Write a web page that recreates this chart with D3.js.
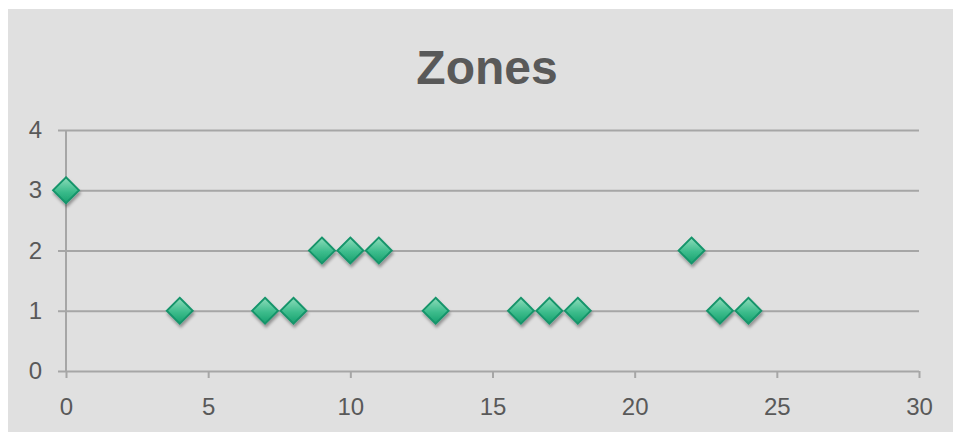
<!DOCTYPE html>
<html>
<head>
<meta charset="utf-8">
<script src="https://cdn.jsdelivr.net/npm/d3@7/dist/d3.min.js"></script>
<style>
  html, body { margin: 0; padding: 0; background: #ffffff; }
  svg { display: block; }
</style>
</head>
<body>
<svg id="chart" width="953" height="432"></svg>
<script>
// Zone number recorded at each position
const xValues = [0, 4, 7, 8, 9, 10, 11, 13, 16, 17, 18, 22, 23, 24];
const zoneValues = [3, 1, 1, 1, 2, 2, 2, 1, 1, 1, 1, 2, 1, 1];
const xTicks = [0, 5, 10, 15, 20, 25, 30];
const yTicks = [0, 1, 2, 3, 4];
const chartTitle = "Zones";

const svg = d3.select("#chart");
const W = 953, H = 432;
const margin = { left: 66, right: 34, top: 130, bottom: 61 };

// Chart area background
svg.append("rect")
  .attr("x", 8).attr("y", 9)
  .attr("width", W - 8).attr("height", H - 9)
  .attr("fill", "#e0e0e0");

const defs = svg.append("defs");
const grad = defs.append("linearGradient")
  .attr("id", "markerFill")
  .attr("x1", 0).attr("y1", 0).attr("x2", 0).attr("y2", 1);
grad.append("stop").attr("offset", "0%").attr("stop-color", "#8fdcbb");
grad.append("stop").attr("offset", "55%").attr("stop-color", "#3cbc8c");
grad.append("stop").attr("offset", "100%").attr("stop-color", "#17a06e");

const shadow = defs.append("filter").attr("id", "markerShadow")
  .attr("x", "-50%").attr("y", "-50%").attr("width", "200%").attr("height", "200%");
shadow.append("feDropShadow")
  .attr("dx", 1).attr("dy", 3).attr("stdDeviation", 1.6)
  .attr("flood-color", "#000").attr("flood-opacity", 0.35);

const x = d3.scaleLinear().domain([0, 30]).range([margin.left, W - margin.right]);
const y = d3.scaleLinear().domain([0, 4]).range([H - margin.bottom, margin.top]);

const axisColor = "#a6a6a6";
const textColor = "#595959";
const tickFont = "24px";

// Horizontal gridlines with left tick stubs
const yAxis = d3.axisLeft(y)
  .tickValues(yTicks)
  .tickSize(-(x(30) - x(0)))
  .tickPadding(24)
  .tickFormat(d3.format("d"));
const gy = svg.append("g")
  .attr("transform", `translate(${x(0)},0)`)
  .call(yAxis);
gy.select(".domain").remove();
gy.selectAll(".tick line")
  .attr("x1", -8)
  .attr("stroke", axisColor).attr("stroke-width", 2);
gy.selectAll(".tick text")
  .attr("fill", textColor)
  .style("font-family", "'Liberation Sans', Arial, sans-serif")
  .style("font-size", tickFont);

// Vertical axis line at x = 0
svg.append("line")
  .attr("x1", x(0)).attr("x2", x(0))
  .attr("y1", y(4)).attr("y2", y(0))
  .attr("stroke", axisColor).attr("stroke-width", 2);

// Bottom axis
const xAxis = d3.axisBottom(x)
  .tickValues(xTicks)
  .tickSize(7)
  .tickPadding(20)
  .tickFormat(d3.format("d"));
const gx = svg.append("g")
  .attr("transform", `translate(0,${y(0)})`)
  .call(xAxis);
gx.select(".domain").remove();
gx.selectAll(".tick line").attr("stroke", axisColor).attr("stroke-width", 2);
gx.selectAll(".tick text")
  .attr("fill", textColor)
  .style("font-family", "'Liberation Sans', Arial, sans-serif")
  .style("font-size", tickFont);

// Title
svg.append("text")
  .attr("x", 487).attr("y", 84)
  .attr("text-anchor", "middle")
  .attr("fill", textColor)
  .style("font-family", "'Liberation Sans', Arial, sans-serif")
  .style("font-weight", "bold")
  .style("font-size", "48px")
  .text(chartTitle);

// Diamond markers
const points = xValues.map((v, i) => ({ x: v, z: zoneValues[i] }));
const r = 13;
svg.append("g").selectAll("path")
  .data(points)
  .join("path")
  .attr("transform", d => `translate(${x(d.x)},${y(d.z)})`)
  .attr("d", `M0,${-r} L${r},0 L0,${r} L${-r},0 Z`)
  .attr("fill", "url(#markerFill)")
  .attr("stroke", "#14946a")
  .attr("stroke-width", 1.8)
  .attr("filter", "url(#markerShadow)");
</script>
</body>
</html>
